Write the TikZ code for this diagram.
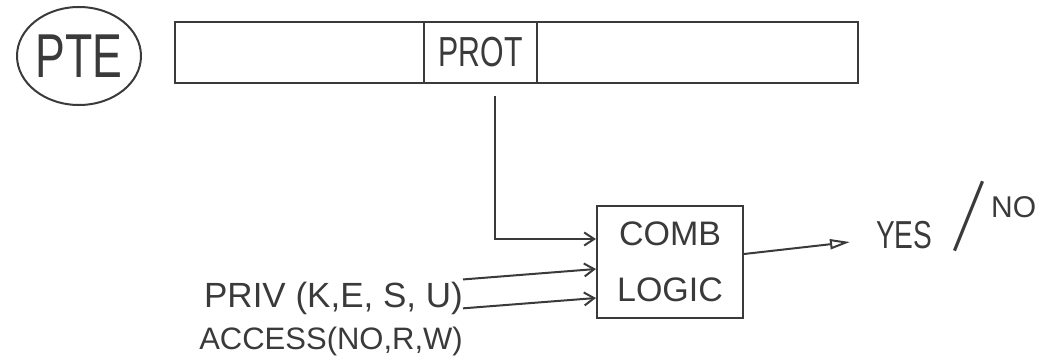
\documentclass[tikz,border=0pt]{standalone}
\usepackage{fontspec}
\usepackage{graphicx}
\setmainfont{Liberation Sans}
\newfontfamily\handn[FakeStretch=0.72]{Liberation Sans}
\usetikzlibrary{shapes.geometric,arrows.meta}
\definecolor{ink}{HTML}{3A3A3A}
\tikzset{
  pen/.style={draw=ink, line width=2pt},
  lbl/.style={text=ink, inner sep=0pt},
  inarr/.style={pen, -{Straight Barb[length=10pt,width=13pt]}},
  outarr/.style={pen, -{Triangle[open,length=20pt,width=10pt]}},
}
\begin{document}
\begin{tikzpicture}[x=1pt,y=-1pt]
\useasboundingbox (0,0) rectangle (1047,361);
% PTE label
\node[pen, ellipse, minimum width=124pt, minimum height=98pt, inner sep=0pt,
      text=ink, font=\handn\fontsize{62}{62}\selectfont] (pte) at (79,56) {PTE};
% page table entry bar
\node[pen, minimum width=683pt, minimum height=61pt, inner sep=0pt] (bar) at (516.5,52.5) {};
\node[pen, minimum width=113pt, minimum height=61pt, inner sep=0pt,
      text=ink, font=\handn\fontsize{42}{42}\selectfont] (prot) at (480.5,52.5) {PROT};
% combinational logic
\node[pen, minimum width=146pt, minimum height=112pt, align=center, text=ink,
      font=\fontsize{34}{56}\selectfont] (comb) at (670,262) {COMB\\LOGIC};
% inputs
\node[lbl, anchor=base east, font=\fontsize{35}{35}\selectfont] (priv) at (463,307) {PRIV (K,E, S, U)};
\node[lbl, anchor=base east, font=\fontsize{31}{31}\selectfont] (access) at (463,349) {ACCESS(NO,R,W)};
% output
\node[lbl, anchor=base west] (yesno) at (876,248)
  {{\handn\fontsize{39}{39}\selectfont YES}\hspace{18pt}%
   \rotatebox{-22}{\raisebox{16pt}{\scalebox{1}[2.0]{\fontsize{40}{40}\selectfont |}}}\hspace{3pt}%
   \raisebox{31pt}{\fontsize{30}{30}\selectfont NO}};
% connectors
\coordinate (ps) at (495,96);
\draw[inarr] (ps) |- ([yshift=23pt]comb.west);
\draw[inarr] ([yshift=2pt]priv.north east) -- ([yshift=-7pt]comb.west);
\draw[inarr] ([yshift=18pt]access.north east) -- ([yshift=-36pt]comb.west);
\draw[outarr] ([yshift=8pt]comb.east) -- ([xshift=-26pt,yshift=6pt]yesno.base west);
\end{tikzpicture}
\end{document}
